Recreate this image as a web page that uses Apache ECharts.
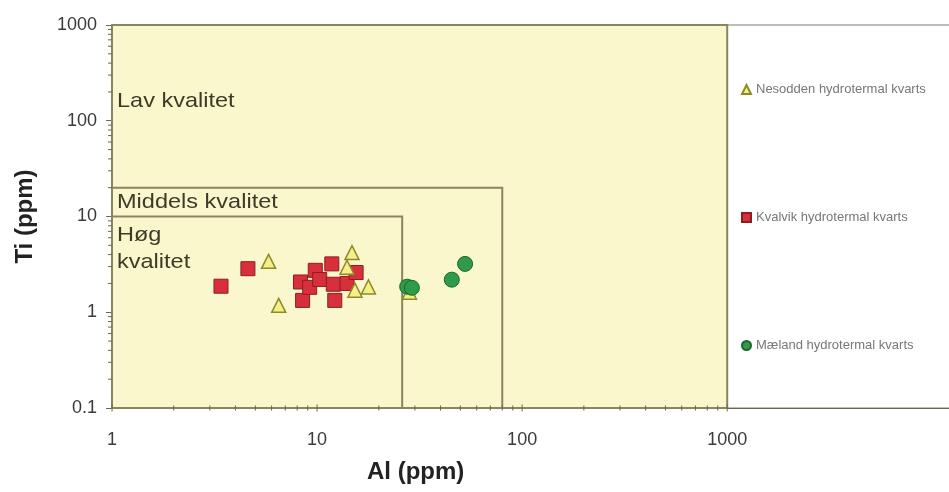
<!DOCTYPE html>
<html>
<head>
<meta charset="utf-8">
<script src="https://cdn.jsdelivr.net/npm/echarts@6/dist/echarts.min.js"></script>
<style>
	html, body { margin: 0; padding: 0; background: #fff; }
	#chart { width: 949px; height: 492px; }
</style>
</head>
<body>
<div id="chart"></div>
<script>
// data: [Al ppm, Ti ppm]
let nesodden = [[5.8, 3.4], [6.5, 1.18], [14.8, 4.2], [14.0, 2.95], [15.3, 1.7], [17.8, 1.84], [28.2, 1.62]]
let kvalvik = [[3.4, 1.87], [4.6, 2.85], [8.5, 1.33], [8.3, 2.07], [9.8, 2.74], [9.2, 1.82], [10.3, 2.2],
	[11.8, 3.2], [12.0, 1.96], [12.2, 1.33], [14.0, 2.0], [15.5, 2.6]]
let maeland = [[27.5, 1.85], [29.0, 1.8], [45.4, 2.19], [52.7, 3.2]]

// quality zones: [xmax, ymax]
let zones = [
	{name: "Lav kvalitet", x: 1000, y: 1000},
	{name: "Middels kvalitet", x: 80, y: 20},
	{name: "Høg kvalitet", x: 26, y: 10}
]

let xLabels = [1, 10, 100, 1000]
let xMinor = [2, 3, 4, 5, 6, 7, 8, 9, 20, 30, 40, 50, 60, 70, 80, 90, 200, 300, 400, 500, 600, 700, 800, 900]
let yMinor = [0.2, 0.3, 0.4, 0.5, 0.6, 0.7, 0.8, 0.9, 2, 3, 4, 5, 6, 7, 8, 9, 20, 30, 40, 50, 60, 70, 80, 90,
	200, 300, 400, 500, 600, 700, 800, 900]

let chart = echarts.init(document.getElementById("chart"))
let font = "Liberation Sans, Arial, sans-serif"
let frameColor = "#8a8560"

function tickSeries(values, isX, len) {
	return {
		type: "custom",
		silent: true,
		z: 6,
		data: values.map(function (v) {
			return isX ? [v, 0.1] : [1, v]
		}),
		renderItem: function (params, api) {
			let p = api.coord([api.value(0), api.value(1)])
			let shape = isX
				? {x1: p[0], y1: p[1] - len / 2, x2: p[0], y2: p[1] + len / 2}
				: {x1: p[0] - len, y1: p[1], x2: p[0], y2: p[1]}
			return {
				type: "line",
				shape: shape,
				style: {stroke: "#6a6650", lineWidth: 1}
			}
		}
	}
}

function zoneText(text, top) {
	return {
		type: "text", z: 50, left: 117, top: top, scaleX: 1.12,
		style: {text: text, font: "21px " + font, fill: "#3d3a28", lineHeight: 27}
	}
}

chart.setOption({
	animation: false,
	textStyle: {fontFamily: font},
	grid: {
		left: 112,
		right: -10,
		top: 25,
		bottom: 84,
		outerBoundsMode: "none",
		show: true,
		borderColor: "#7a7a7a",
		borderWidth: 1
	},
	legend: {
		data: ["Nesodden hydrotermal kvarts", "Kvalvik hydrotermal kvarts", "Mæland hydrotermal kvarts"],
		orient: "vertical",
		left: 736,
		top: 78,
		itemWidth: 9,
		itemHeight: 9,
		itemGap: 115,
		textStyle: {fontSize: 13, color: "#777", fontFamily: font}
	},
	xAxis: {
		type: "log",
		min: 1,
		max: 13500,
		axisLine: {lineStyle: {color: "#6a6650"}},
		axisTick: {show: false},
		splitLine: {show: false},
		axisLabel: {
			fontSize: 18,
			color: "#3a3a3a",
			margin: 23,
			formatter: function (v) {
				return xLabels.indexOf(v) >= 0 ? String(v) : ""
			}
		}
	},
	yAxis: {
		type: "log",
		min: 0.1,
		max: 1000,
		name: "Ti (ppm)",
		nameLocation: "middle",
		nameGap: 75,
		nameTextStyle: {fontSize: 24, fontWeight: "bold", color: "#222"},
		axisLine: {lineStyle: {color: "#6a6650"}},
		axisTick: {show: true, length: 6, lineStyle: {color: "#6a6650"}},
		splitLine: {show: false},
		axisLabel: {
			fontSize: 18,
			color: "#3a3a3a",
			margin: 15,
			formatter: function (v) {
				return String(v)
			}
		}
	},
	graphic: [
		zoneText(zones[0].name, 88),
		zoneText(zones[1].name, 189),
		zoneText("Høg\nkvalitet", 222),
		{type: "text", z: 50, left: 367, top: 460, style: {text: "Al (ppm)", font: "bold 24px " + font, fill: "#222"}}
	],
	series: [
		{
			type: "scatter",
			name: "zones",
			data: [],
			z: 1,
			markArea: {
				silent: true,
				itemStyle: {color: "#faf7cd", opacity: 1, borderColor: frameColor, borderWidth: 2},
				label: {show: false},
				data: zones.map(function (z) {
					return [{coord: [1, 0.1]}, {coord: [z.x, z.y]}]
				})
			}
		},
		tickSeries(xMinor, true, 5),
		tickSeries(xLabels, true, 7),
		tickSeries(yMinor, false, 4),
		{
			type: "scatter",
			name: "Kvalvik hydrotermal kvarts",
			data: kvalvik,
			symbol: "rect",
			symbolSize: 14,
			z: 3,
			itemStyle: {color: "#d8303a", opacity: 1, borderColor: "#8e1c24", borderWidth: 1}
		},
		{
			type: "scatter",
			name: "Nesodden hydrotermal kvarts",
			data: nesodden,
			symbol: "triangle",
			symbolSize: 14,
			z: 4,
			itemStyle: {color: "#f4ef88", opacity: 1, borderColor: "#8d8a2a", borderWidth: 1.5}
		},
		{
			type: "scatter",
			name: "Mæland hydrotermal kvarts",
			data: maeland,
			symbol: "circle",
			symbolSize: 15,
			z: 5,
			itemStyle: {color: "#2f9a48", opacity: 1, borderColor: "#1c6630", borderWidth: 1}
		}
	]
})
</script>
</body>
</html>
